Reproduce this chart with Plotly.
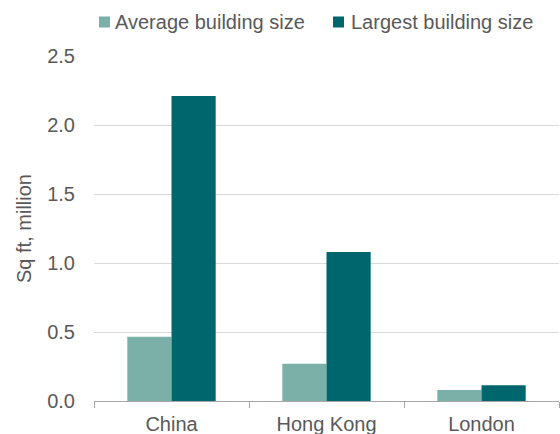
import plotly.graph_objects as go

categories = ["China", "Hong Kong", "London"]
average_size = [0.465, 0.27, 0.08]
largest_size = [2.21, 1.08, 0.115]
series_names = ["Average building size", "Largest building size"]
series_colors = ["#7AB0A8", "#00666E"]
y_ticks = [0.0, 0.5, 1.0, 1.5, 2.0, 2.5]
y_tick_labels = ["0.0", "0.5", "1.0", "1.5", "2.0", "2.5"]

FONT = "Liberation Sans, Arial, sans-serif"
TXT = "#595959"
FS = 20

W, H = 560, 434
ML, MR, MT, MB = 94, 1, 56, 33
PW, PH = W - ML - MR, H - MT - MB


def px_x(px):
    return (px - ML) / PW


def px_y(py):
    return (H - MB - py) / PH


fig = go.Figure()
for name, vals, col in zip(series_names, [average_size, largest_size], series_colors):
    fig.add_trace(go.Bar(x=categories, y=vals, name=name,
                         marker=dict(color=col, line=dict(width=0))))

# legend drawn manually (square + text) to match the reference spacing
legend_sq_left = [99, 333]
legend_text_left = [113, 349]
shapes, annotations = [], []
for name, col, sx, tx in zip(series_names, series_colors, legend_sq_left, legend_text_left):
    shapes.append(dict(type="rect", xref="paper", yref="paper",
                       x0=px_x(sx), x1=px_x(sx + 11), y0=px_y(27.5), y1=px_y(16.5),
                       fillcolor=col, line=dict(width=0)))
    annotations.append(dict(text=name, xref="paper", yref="paper", x=px_x(tx), y=px_y(22),
                            xanchor="left", yanchor="middle", showarrow=False,
                            font=dict(family=FONT, size=FS, color=TXT)))

fig.update_layout(
    width=W, height=H,
    margin=dict(l=ML, r=MR, t=MT, b=MB, autoexpand=False),
    paper_bgcolor="white", plot_bgcolor="white",
    barmode="group", bargap=0.43, bargroupgap=0,
    font=dict(family=FONT, size=FS, color=TXT),
    showlegend=False,
    shapes=shapes, annotations=annotations,
)
fig.update_xaxes(
    showgrid=False, showline=True, linecolor="#A6A6A6", linewidth=1,
    ticks="outside", tickson="boundaries", ticklen=6, tickcolor="#A6A6A6",
    ticklabelstandoff=5,
    tickfont=dict(family=FONT, size=FS, color=TXT), fixedrange=True,
)
fig.update_yaxes(
    range=[0, 2.5], tickvals=y_ticks, ticktext=y_tick_labels,
    showgrid=True, gridcolor="#D9D9D9", gridwidth=1,
    zeroline=False, showline=False, ticks="", ticklabelstandoff=18,
    tickfont=dict(family=FONT, size=FS, color=TXT),
    title=dict(text="Sq ft, million", font=dict(family=FONT, size=FS, color=TXT), standoff=10),
    fixedrange=True,
)

fig.write_html("out.html", config={"displayModeBar": False})
